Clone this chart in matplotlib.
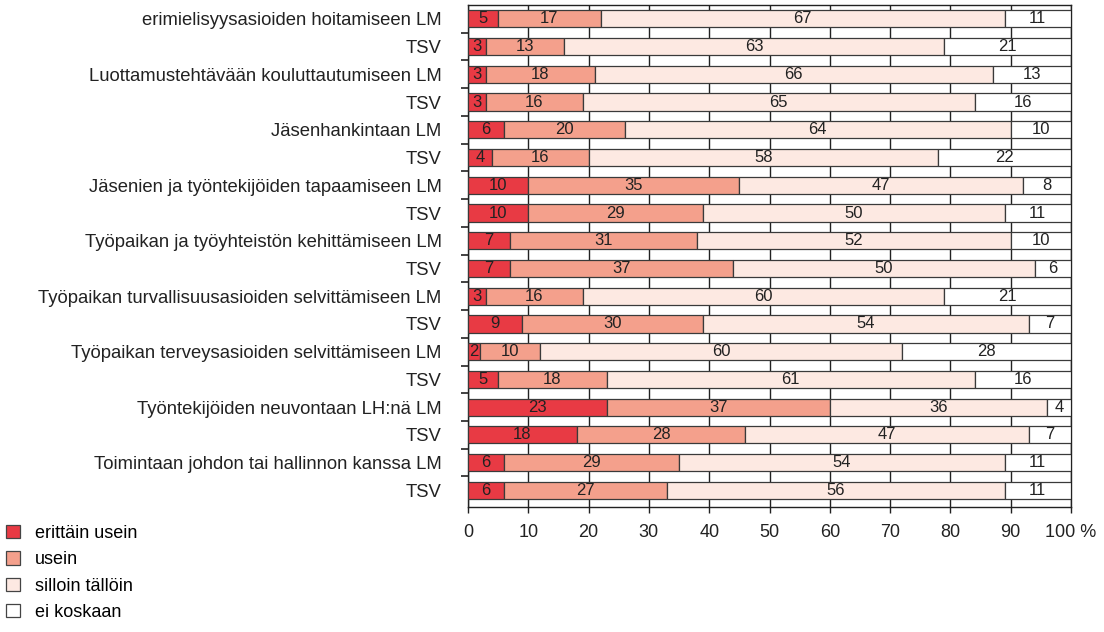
import matplotlib.pyplot as plt
import numpy as np
from matplotlib.patches import Patch

plt.rcParams['font.family'] = ['Liberation Sans', 'DejaVu Sans']

labels = ['erimielisyysasioiden hoitamiseen LM', 'TSV',
          'Luottamustehtävään kouluttautumiseen LM', 'TSV',
          'Jäsenhankintaan LM', 'TSV',
          'Jäsenien ja työntekijöiden tapaamiseen LM', 'TSV',
          'Työpaikan ja työyhteistön kehittämiseen LM', 'TSV',
          'Työpaikan turvallisuusasioiden selvittämiseen LM', 'TSV',
          'Työpaikan terveysasioiden selvittämiseen LM', 'TSV',
          'Työntekijöiden neuvontaan LH:nä LM', 'TSV',
          'Toimintaan johdon tai hallinnon kanssa LM', 'TSV']

erittain_usein = [5, 3, 3, 3, 6, 4, 10, 10, 7, 7, 3, 9, 2, 5, 23, 18, 6, 6]
usein = [17, 13, 18, 16, 20, 16, 35, 29, 31, 37, 16, 30, 10, 18, 37, 28, 29, 27]
silloin = [67, 63, 66, 65, 64, 58, 47, 50, 52, 50, 60, 54, 60, 61, 36, 47, 54, 56]
ei_koskaan = [11, 21, 13, 16, 10, 22, 8, 11, 10, 6, 21, 7, 28, 16, 4, 7, 11, 11]

series = [erittain_usein, usein, silloin, ei_koskaan]
names = ['erittäin usein', 'usein', 'silloin tällöin', 'ei koskaan']
colors = ['#E83A44', '#F4A08C', '#FDE9E2', '#FFFFFF']

fig = plt.figure(figsize=(11.04, 6.32), dpi=100)
ax = fig.add_axes([468 / 1104, 1 - 507 / 632, (1071 - 468) / 1104, (507 - 5) / 632])

y = np.arange(len(labels))
left = np.zeros(len(labels))
for vals, c in zip(series, colors):
    vals = np.array(vals)
    ax.barh(y, vals, left=left, height=0.62, color=c, edgecolor='#3a3a3a',
            linewidth=0.9, zorder=3)
    for yi, l, v in zip(y, left, vals):
        ax.text(l + v / 2, yi, str(v), ha='center', va='center',
                fontsize=12, color='#222222', zorder=4)
    left += vals

ax.set_xlim(0, 100)
ax.set_ylim(17.6, -0.5)

ax.set_xticks(np.arange(0, 101, 10))
ax.set_xticklabels([str(v) for v in range(0, 100, 10)] + ['100 %'], fontsize=13,
                   color='#222222')
ax.set_yticks(y)
ax.set_yticklabels(labels, fontsize=13.3, color='#222222')
ax.tick_params(axis='y', which='major', length=0, pad=19)
ax.set_yticks(np.arange(0.5, 17, 1), minor=True)
ax.tick_params(axis='y', which='minor', length=5, width=1.2, color='#222222')
ax.tick_params(axis='x', length=4, width=1, color='#222222', pad=8)

ax.grid(axis='x', color='#222222', linewidth=1, zorder=0)
ax.set_axisbelow(True)
for s in ax.spines.values():
    s.set_color('#222222')
    s.set_linewidth(1)

handles = [Patch(facecolor=c, edgecolor='#444444', linewidth=0.9) for c in colors]
fig.legend(handles, names, loc='upper left', bbox_to_anchor=(6 / 1104, 1 - 525 / 632),
           frameon=False, fontsize=13, handlelength=0.75, handleheight=0.75,
           handletextpad=0.85, labelspacing=0.52, borderpad=0, borderaxespad=0)

fig.savefig('out.png', dpi=100)
